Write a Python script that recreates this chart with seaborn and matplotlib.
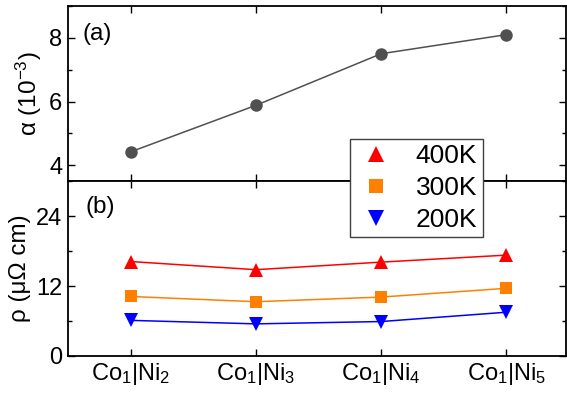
import numpy as np
import pandas as pd
import matplotlib
matplotlib.use('Agg')
import matplotlib.pyplot as plt
from matplotlib.lines import Line2D
import seaborn as sns

# datos
samples = [r'Co$_1$|Ni$_2$', r'Co$_1$|Ni$_3$', r'Co$_1$|Ni$_4$', r'Co$_1$|Ni$_5$']
alpha = [4.42, 5.88, 7.50, 8.10]
rho_400 = [16.2, 14.8, 16.1, 17.3]
rho_300 = [10.2, 9.3, 10.1, 11.6]
rho_200 = [6.1, 5.5, 5.9, 7.5]
temps = ['400K', '300K', '200K']

sns.set_style('ticks')
plt.rcParams['font.family'] = ['Liberation Sans', 'DejaVu Sans']
plt.rcParams['mathtext.fontset'] = 'custom'
plt.rcParams['mathtext.rm'] = 'Liberation Sans'
plt.rcParams['mathtext.it'] = 'Liberation Sans'
plt.rcParams['mathtext.default'] = 'regular'
plt.rcParams['text.color'] = 'black'
plt.rcParams['axes.labelcolor'] = 'black'
plt.rcParams['xtick.color'] = 'black'
plt.rcParams['ytick.color'] = 'black'

x = np.arange(len(samples))
df = pd.DataFrame({'x': np.tile(x, 3),
                   'rho': rho_400 + rho_300 + rho_200,
                   'T': np.repeat(temps, len(samples))})

colores = {'400K': '#ff0000', '300K': '#ff8000', '200K': '#0000ff'}
marcas = {'400K': '^', '300K': 's', '200K': 'v'}

fig = plt.figure(figsize=(5.67, 3.99), dpi=100)
ax1 = fig.add_axes([0.12, 0.546, 0.879, 0.439])
ax2 = fig.add_axes([0.12, 0.108, 0.879, 0.438])

sns.lineplot(x=x, y=alpha, ax=ax1, color='#505050', marker='o', markersize=9,
             markeredgewidth=0, linewidth=1.1)
for t in temps:
    sub = df[df['T'] == t]
    sns.lineplot(data=sub, x='x', y='rho', ax=ax2, color=colores[t], marker=marcas[t],
                 markersize=10.5 if t != '300K' else 9, markeredgewidth=0,
                 linewidth=1.1, legend=False)

ax1.set_ylim(3.5, 9)
ax1.set_yticks([4, 6, 8])
ax1.set_yticks([5, 7, 9], minor=True)
ax2.set_ylim(0, 30)
ax2.set_yticks([0, 12, 24])
ax2.set_yticks([6, 18, 30], minor=True)

for ax in (ax1, ax2):
    ax.set_xlim(-0.5, 3.48)
    ax.set_xticks(x)
    ax.tick_params(which='both', direction='in', top=True, right=True, width=1,
                   labelsize=17, pad=4, colors='black')
    ax.tick_params(which='major', length=5)
    ax.tick_params(which='minor', length=3)
    for s in ax.spines.values():
        s.set_linewidth(1.3)
        s.set_color('black')

ax1.set_xticklabels([])
ax1.set_xlabel('')
ax2.set_xticklabels(samples)
ax2.set_xlabel('')
ax1.set_ylabel(r'α (10$^{-3}$)', fontsize=17.5, labelpad=4)
ax2.set_ylabel('ρ (μΩ cm)', fontsize=17.5, labelpad=4)
fig.align_ylabels([ax1, ax2])

ax1.text(0.03, 0.84, '(a)', transform=ax1.transAxes, fontsize=17.5, va='center')
ax2.text(0.035, 0.85, '(b)', transform=ax2.transAxes, fontsize=17.5, va='center')

handles = [Line2D([], [], linestyle='none', marker=marcas[t], color=colores[t],
                  markersize=12 if t != '300K' else 10, markeredgewidth=0) for t in temps]
leg = fig.legend(handles, temps, loc='upper left', bbox_to_anchor=(0.617, 0.652),
                 fontsize=19, frameon=True, fancybox=False, borderaxespad=0,
                 handletextpad=0.7, handlelength=1.6, labelspacing=0.3, borderpad=0.2)
leg.get_frame().set_edgecolor('#404040')
leg.get_frame().set_linewidth(1.0)
leg.get_frame().set_alpha(1)

fig.savefig('out.png', dpi=100)
